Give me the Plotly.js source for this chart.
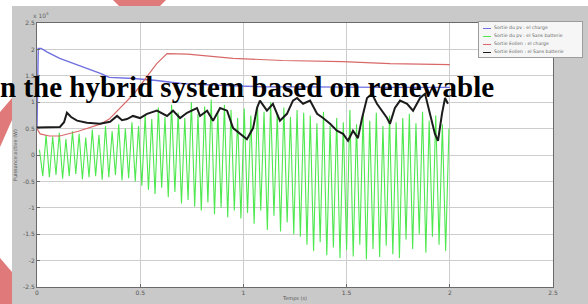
<!DOCTYPE html>
<html>
<head>
<meta charset="utf-8">
<script src="https://cdn.plot.ly/plotly-3.0.1.min.js"></script>
<style>
  html, body { margin:0; padding:0; background:#ffffff; }
  #wrap { position:relative; width:588px; height:304px; overflow:hidden; }
  .wm { position:absolute; left:0; top:0; width:588px; height:304px; background:#e07a7a; }
  #fig { position:absolute; left:12px; top:6px; width:576px; height:298px; background:#c9c9c9; }
  #plot { position:absolute; left:0; top:0; width:588px; height:304px; }
  #legend { position:absolute; left:478px; top:21px; width:103px; height:35px; background:#f6f6f6; border:1px solid #9c9c9c; }
  .li { position:absolute; left:0; height:8px; width:103px; font-family:"DejaVu Sans", sans-serif; font-size:4.6px; color:#666; line-height:8px; white-space:nowrap; }
  .li .sw { position:absolute; left:4px; top:4px; width:8px; height:1px; }
  .li .tx { position:absolute; left:15px; top:0; }
  #overlay { position:absolute; left:0; top:73px; font-family:"Liberation Serif", "Times New Roman", serif; font-weight:bold; font-size:29px; line-height:29px; color:#000; white-space:nowrap; }
</style>
</head>
<body>
<div id="wrap">
  <div class="wm" style="clip-path:polygon(113px 0, 166px 0, 160px 6px, 119px 6px);"></div>
  <div class="wm" style="clip-path:polygon(0 112px, 12px 98px, 12px 120px, 0 147px);"></div>
  <div class="wm" style="clip-path:polygon(0 258px, 12px 272px, 12px 304px, 0 304px);"></div>
  <div id="fig"></div>
  <div id="plot"></div>
  <div id="legend"></div>
  <div id="overlay">n the hybrid system based on renewable</div>
</div>
<script>
// ---- data (power in units of 10^4 W, time in s) ----
const seriesNames = [
  "Sortie du pv : el charge",
  "Sortie du pv : el Sans batterie",
  "Sortie Eolien : el charge",
  "Sortie Eolien : el Sans batterie"
];
const seriesColors = ["#6f6fe0", "#4fe84f", "#d86868", "#1c1c1c"];

const blueT = [0, 0.006, 0.02, 0.05, 0.11, 0.21, 0.31, 0.35, 0.47, 0.58, 0.71, 0.95, 1.11, 1.3, 1.5, 1.7, 2.0];
const blueV = [0.5, 2.02, 2.02, 1.95, 1.83, 1.69, 1.54, 1.47, 1.45, 1.41, 1.35, 1.31, 1.29, 1.29, 1.28, 1.28, 1.28];

const redT = [0, 0.015, 0.06, 0.11, 0.2, 0.31, 0.35, 0.39, 0.43, 0.47, 0.53, 0.58, 0.63, 0.68, 0.73, 0.95, 1.19, 1.48, 1.71, 2.0];
const redV = [0.5, 0.4, 0.36, 0.36, 0.45, 0.59, 0.68, 0.84, 1.0, 1.16, 1.47, 1.73, 1.92, 1.92, 1.91, 1.83, 1.79, 1.77, 1.73, 1.71];

const greenStart = 0.012;
const greenStep = 0.016;
const greenV = [
  0.10, -0.40, 0.38, -0.42, 0.35, -0.38, 0.42, -0.45, 0.30, -0.40,
  0.45, -0.36, 0.40, -0.46, 0.33, -0.42, 0.48, -0.40, 0.38, -0.47,
  0.55, -0.42, 0.45, -0.38, 0.58, -0.48, 0.50, -0.44, 0.62, -0.50,
  0.55, -0.58, 0.75, -0.66, 0.68, -0.74, 0.90, -0.62, 0.72, -0.80,
  0.95, -0.70, 0.80, -0.92, 0.70, -0.85, 1.00, -0.98, 0.78, -1.05,
  0.92, -0.90, 1.05, -1.12, 0.80, -1.00, 0.95, -1.18, 0.85, -1.05,
  0.70, -1.20, 0.88, -1.10, 0.75, -1.30, 0.95, -1.05, 0.82, -1.42,
  1.00, -1.15, 0.78, -1.45, 0.90, -1.28, 0.72, -1.50, 0.85, -1.55,
  0.80, -1.70, 0.75, -1.82, 0.60, -1.65, 0.82, -1.90, 0.55, -1.75,
  0.70, -1.95, 0.62, -1.80, 0.85, -1.92, 0.58, -1.70, 0.78, -1.98,
  0.65, -1.78, 0.80, -1.93, 0.55, -1.72, 0.75, -1.88, 0.62, -1.95,
  0.70, -1.60, 0.78, -1.78, 0.60, -1.50, 0.82, -1.85, 0.65, -1.55,
  0.75, -1.70, 0.58, -1.82, 0.50
];
const greenT = greenV.map((_, i) => greenStart + i * greenStep);

const blackT = [0, 0.063, 0.111, 0.131, 0.145, 0.165, 0.194, 0.242, 0.305, 0.354, 0.388, 0.412, 0.436, 0.465, 0.499,
  0.533, 0.581, 0.630, 0.659, 0.693, 0.727, 0.775, 0.790, 0.824, 0.853, 0.887, 0.921, 0.950, 0.984, 1.017,
  1.047, 1.066, 1.080, 1.114, 1.143, 1.177, 1.211, 1.240, 1.260, 1.289, 1.323, 1.357, 1.386, 1.420, 1.453,
  1.483, 1.507, 1.531, 1.555, 1.575, 1.599, 1.623, 1.647, 1.672, 1.696, 1.710, 1.734, 1.759, 1.793, 1.822,
  1.856, 1.880, 1.904, 1.928, 1.943, 1.962, 1.977, 1.991];
const blackV = [0.52, 0.52, 0.53, 0.62, 0.80, 0.72, 0.65, 0.61, 0.59, 0.63, 0.74, 0.66, 0.68, 0.74, 0.70,
  0.78, 0.84, 0.74, 0.84, 0.70, 0.80, 0.89, 0.74, 0.84, 0.65, 0.89, 0.84, 0.51, 0.40, 0.30,
  0.51, 0.89, 1.03, 0.84, 0.97, 0.65, 0.78, 1.03, 1.08, 0.97, 1.03, 0.78, 0.70, 0.59, 0.46,
  0.40, 0.27, 0.46, 0.32, 0.70, 1.08, 1.16, 0.97, 0.84, 0.70, 0.59, 0.89, 1.03, 0.97, 0.84,
  1.08, 1.16, 0.78, 0.40, 0.27, 0.78, 1.08, 0.97];

const xTicks = [0, 0.5, 1, 1.5, 2, 2.5];
const xTickText = ["0", "0.5", "1", "1.5", "2", "2.5"];
const yTicks = [-2.5, -2, -1.5, -1, -0.5, 0, 0.5, 1, 1.5, 2, 2.5];
const yTickText = ["-2.5", "-2", "-1.5", "-1", "-0.5", "0", "0.5", "1", "1.5", "2", "2.5"];

const xTitle = "Temps (s)";
const yTitle = "Puissance active (W)";
const expLabel = "x 10<sup>4</sup>";

// ---- traces ----
const traces = [
  {x: blueT, y: blueV, name: seriesNames[0], mode: "lines", line: {color: seriesColors[0], width: 1.4}},
  {x: greenT, y: greenV, name: seriesNames[1], mode: "lines", line: {color: seriesColors[1], width: 1.1}},
  {x: redT, y: redV, name: seriesNames[2], mode: "lines", line: {color: seriesColors[2], width: 1.2}},
  {x: blackT, y: blackV, name: seriesNames[3], mode: "lines", line: {color: seriesColors[3], width: 2}}
];

const axisCommon = {
  showgrid: true, gridcolor: "#cdcdcd", gridwidth: 1,
  showline: true, linecolor: "#6a6a6a", linewidth: 1, mirror: true,
  zeroline: false, ticks: "inside", ticklen: 3, tickcolor: "#6a6a6a",
  tickfont: {family: "DejaVu Sans", size: 6, color: "#555"}
};

const layout = {
  width: 588, height: 304,
  margin: {l: 37, r: 35, t: 23, b: 17, pad: 0},
  paper_bgcolor: "rgba(0,0,0,0)",
  plot_bgcolor: "#ffffff",
  showlegend: false,
  xaxis: Object.assign({}, axisCommon, {
    range: [0, 2.5], tickvals: xTicks, ticktext: xTickText,
    title: {text: xTitle, font: {family: "DejaVu Sans", size: 5, color: "#555"}, standoff: 1}
  }),
  yaxis: Object.assign({}, axisCommon, {
    range: [-2.5, 2.5], tickvals: yTicks, ticktext: yTickText,
    title: {text: yTitle, font: {family: "DejaVu Sans", size: 5, color: "#555"}, standoff: 5}
  }),
  annotations: [
    {text: expLabel, xref: "paper", yref: "paper", x: 0, y: 1, xanchor: "left", yanchor: "bottom",
     xshift: -6, yshift: 2, showarrow: false, font: {family: "DejaVu Sans", size: 6, color: "#666"}}
  ]
};

Plotly.newPlot("plot", traces, layout, {staticPlot: true, displayModeBar: false});

// legend
const leg = document.getElementById("legend");
seriesNames.forEach((n, i) => {
  const row = document.createElement("div");
  row.className = "li";
  row.style.top = (1.5 + i * 8.2) + "px";
  row.innerHTML = '<span class="sw" style="background:' + seriesColors[i] + '"></span><span class="tx">' + n + '</span>';
  leg.appendChild(row);
});
</script>
</body>
</html>
